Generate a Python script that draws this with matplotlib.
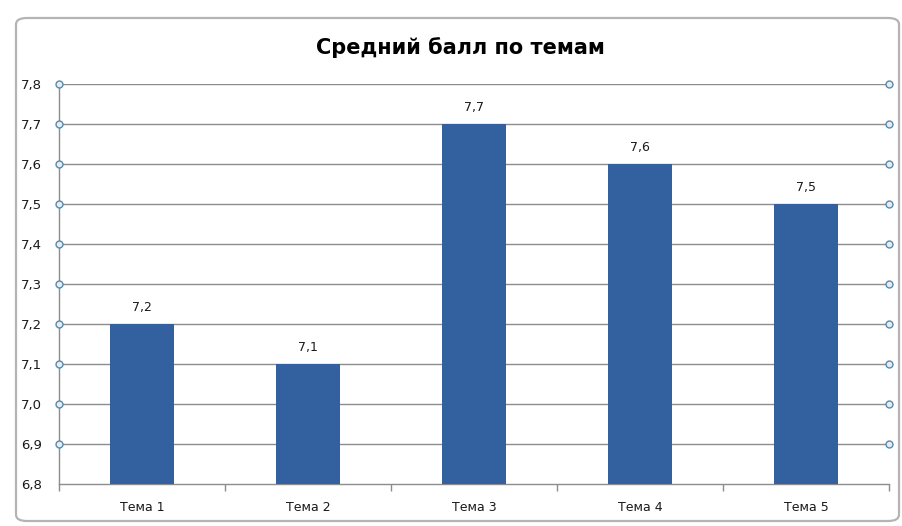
#!/usr/bin/env python3

import matplotlib
matplotlib.use('Agg')
import matplotlib.pyplot as plt
from matplotlib.patches import FancyBboxPatch

# Average score per topic
topics = ['Тема 1', 'Тема 2', 'Тема 3', 'Тема 4', 'Тема 5']
scores = [7.2, 7.1, 7.7, 7.6, 7.5]
y_ticks = [6.8, 6.9, 7.0, 7.1, 7.2, 7.3, 7.4, 7.5, 7.6, 7.7, 7.8]

bar_color = '#3361a0'
grid_color = '#8c8c8c'


def fmt(v):
    return '{:.1f}'.format(v).replace('.', ',')


fig = plt.figure(figsize=(9.02, 5.26), dpi=100)
plt.rcParams['font.family'] = ['DejaVu Sans']

# chart frame, kept behind the axes
frame = FancyBboxPatch((16 / 902, 5 / 526), 883 / 902, 503 / 526,
                       boxstyle='round,pad=0,rounding_size=0.012',
                       transform=fig.transFigure, facecolor='white',
                       edgecolor='#b4b4b4', linewidth=1.6, zorder=-1)
fig.patches.append(frame)

ax = fig.add_axes([59 / 902, 42 / 526, 830 / 902, 400 / 526])
ax.set_facecolor('none')

x = list(range(len(topics)))
ax.bar(x, scores, width=0.39, color=bar_color, zorder=3)

for xi, v in zip(x, scores):
    ax.text(xi, v + 0.025, fmt(v), ha='center', va='bottom',
            fontsize=9, color='#1a1a1a', zorder=4)

ax.set_xlim(-0.5, len(topics) - 0.5)
ax.set_ylim(6.8, 7.8)
ax.set_yticks(y_ticks)
ax.set_yticklabels([fmt(v) for v in y_ticks], fontsize=9.5, color='#1a1a1a')
ax.set_xticks(x)
ax.set_xticklabels(topics, fontsize=9, color='#1a1a1a')
ax.tick_params(axis='x', which='major', length=0, pad=12)
ax.set_xticks([i - 0.5 for i in range(len(topics) + 1)], minor=True)
ax.tick_params(axis='x', which='minor', length=5, direction='out',
               color=grid_color, width=1)
ax.tick_params(axis='y', length=0, pad=12)

for v in y_ticks[1:]:
    ax.axhline(v, color=grid_color, linewidth=1, zorder=1)

# selection handles at the gridline ends
handle_y = y_ticks[1:]
for xe in (-0.5, len(topics) - 0.5):
    ax.plot([xe] * len(handle_y), handle_y, 'o', markersize=5,
            markerfacecolor='#e2eef4', markeredgecolor='#5b8aa8',
            markeredgewidth=1, clip_on=False, zorder=5)

for side in ('top', 'right'):
    ax.spines[side].set_visible(False)
for side in ('left', 'bottom'):
    ax.spines[side].set_color(grid_color)
    ax.spines[side].set_linewidth(1)

fig.text(460 / 902, 1 - 48 / 526, 'Средний балл по темам',
         ha='center', va='center', fontsize=15, fontweight='bold')

fig.savefig('out.png', dpi=100)
